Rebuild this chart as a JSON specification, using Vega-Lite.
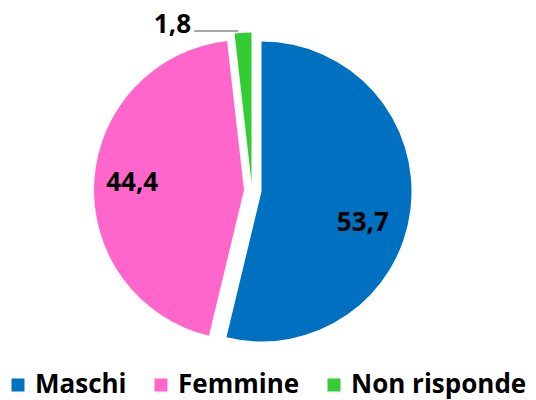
{
  "$schema": "https://vega.github.io/schema/vega-lite/v6.json",
  "width": 504,
  "height": 381,
  "padding": {"left": 0, "top": 0, "right": 32, "bottom": 19},
  "autosize": {"type": "none"},
  "background": "white",
  "config": {"view": {"stroke": null}},
  "data": {
    "values": [
      {"cat": "Maschi", "value": 53.7, "label": "53,7"},
      {"cat": "Femmine", "value": 44.4, "label": "44,4"},
      {"cat": "Non risponde", "value": 1.8, "label": "1,8"}
    ]
  },
  "encoding": {
    "theta": {"field": "value", "type": "quantitative", "stack": true},
    "order": {"field": "value", "type": "quantitative", "sort": "descending"}
  },
  "layer": [
    {
      "mark": {"type": "arc", "outerRadius": 150, "xOffset": 9.5, "yOffset": 1},
      "encoding": {
        "color": {
          "field": "cat", "type": "nominal",
          "scale": {"domain": ["Maschi", "Femmine", "Non risponde"], "range": ["#0070C0", "#FF66CC", "#33CC33"]},
          "legend": {
            "title": null, "orient": "none", "direction": "horizontal",
            "legendX": 5, "legendY": 372,
            "symbolType": "square", "symbolSize": 169, "symbolStrokeWidth": 0, "symbolOpacity": 1,
            "labelFont": "Open Sans", "labelFontWeight": "bold", "labelFontSize": 26, "labelColor": "#000000",
            "labelOffset": 4, "columnPadding": 21, "labelLimit": 400
          }
        },
        "opacity": {"condition": {"test": "datum.cat === 'Maschi'", "value": 1}, "value": 0}
      }
    },
    {
      "mark": {"type": "arc", "outerRadius": 150, "xOffset": -8, "yOffset": -0.5},
      "encoding": {
        "color": {"field": "cat", "type": "nominal"},
        "opacity": {"condition": {"test": "datum.cat === 'Femmine'", "value": 1}, "value": 0}
      }
    },
    {
      "mark": {"type": "arc", "outerRadius": 150, "xOffset": -0.5, "yOffset": -8},
      "encoding": {
        "color": {"field": "cat", "type": "nominal"},
        "opacity": {"condition": {"test": "datum.cat === 'Non risponde'", "value": 1}, "value": 0}
      }
    },
    {
      "mark": {"type": "text", "font": "Open Sans", "fontWeight": "bold", "fontSize": 26, "color": "#000000", "align": "center", "baseline": "middle", "xOffset": 9.5, "yOffset": 1, "dy": 19},
      "encoding": {
        "radius": {"value": 102},
        "text": {"field": "label"},
        "opacity": {"condition": {"test": "datum.cat === 'Maschi'", "value": 1}, "value": 0}
      }
    },
    {
      "mark": {"type": "text", "font": "Open Sans", "fontWeight": "bold", "fontSize": 26, "color": "#000000", "align": "center", "baseline": "middle", "xOffset": -8, "yOffset": -0.5},
      "encoding": {
        "radius": {"value": 112},
        "text": {"field": "label"},
        "opacity": {"condition": {"test": "datum.cat === 'Femmine'", "value": 1}, "value": 0}
      }
    },
    {
      "mark": {"type": "text", "font": "Open Sans", "fontWeight": "bold", "fontSize": 26, "color": "#000000", "align": "center", "baseline": "middle", "xOffset": -0.5, "yOffset": -8, "dx": -70, "dy": 2},
      "encoding": {
        "radius": {"value": 160},
        "text": {"field": "label"},
        "opacity": {"condition": {"test": "datum.cat === 'Non risponde'", "value": 1}, "value": 0}
      }
    },
    {
      "mark": {"type": "text", "font": "DejaVu Sans Mono", "fontWeight": "bold", "fontSize": 24, "color": "#A6A6A6", "align": "center", "baseline": "middle", "xOffset": -0.5, "yOffset": -8, "dx": -27},
      "encoding": {
        "radius": {"value": 151},
        "text": {"value": "───"},
        "opacity": {"condition": {"test": "datum.cat === 'Non risponde'", "value": 1}, "value": 0}
      }
    }
  ]
}
